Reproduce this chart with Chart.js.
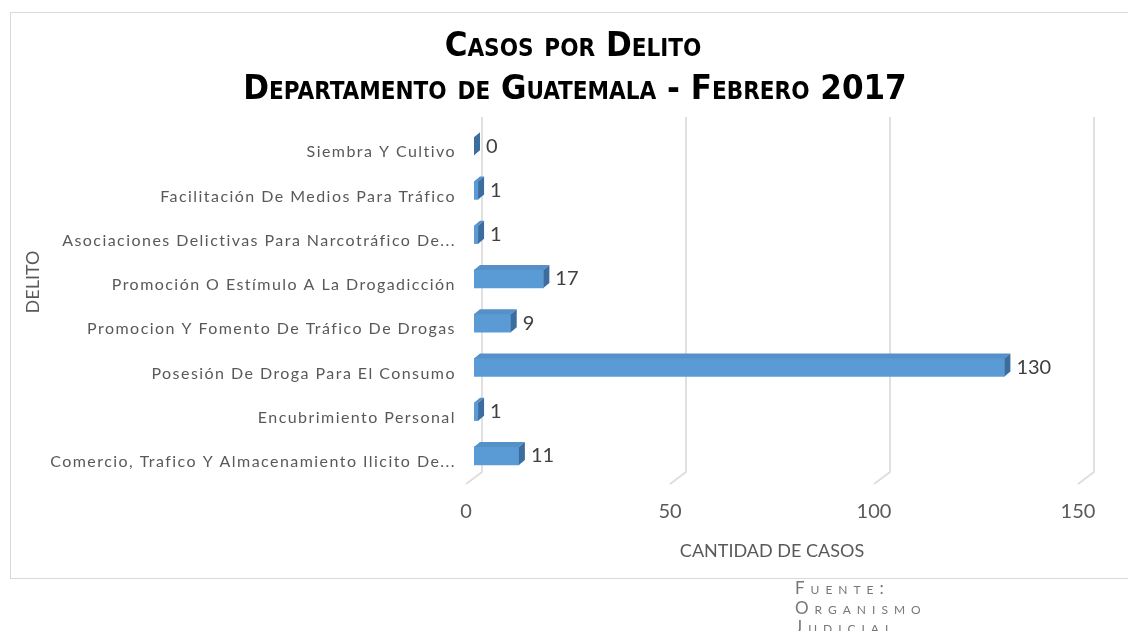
<!DOCTYPE html>
<html><head><meta charset="utf-8">
<script src="https://cdn.jsdelivr.net/npm/chart.js@4"></script>
<style>
html,body{margin:0;padding:0;background:#fff;width:1128px;height:631px;overflow:hidden}
#wrap{position:absolute;left:0;top:0;width:1128px;height:631px}
#src{position:absolute;left:795px;top:578px;font-family:Lato,sans-serif;font-variant:small-caps;font-size:17px;line-height:19.5px;color:#777;letter-spacing:6px}
</style></head><body>
<div id="wrap"><canvas id="c" width="1128" height="631"></canvas></div>
<div id="src">Fuente:<br>Organismo<br>Judicial</div>
<script>
const categories = [
  'Siembra Y Cultivo',
  'Facilitación De Medios Para Tráfico',
  'Asociaciones Delictivas Para Narcotráfico De...',
  'Promoción O Estímulo A La Drogadicción',
  'Promocion Y Fomento De Tráfico De Drogas',
  'Posesión De Droga Para El Consumo',
  'Encubrimiento Personal',
  'Comercio, Trafico Y Almacenamiento Ilicito De...'
];
const casos = [0, 1, 1, 17, 9, 130, 1, 11];
const xTicks = [0, 50, 100, 150];
const titleLines = ['Casos por Delito', 'Departamento de Guatemala - Febrero 2017'];
const yTitle = 'DELITO';
const xTitle = 'CANTIDAD DE CASOS';

const DEPTH = {bx: 8, by: -6, gx: 16, gy: -12, fx: 6, fy: -5};

const frame = {
  id: 'frame',
  beforeDraw(chart) {
    const ctx = chart.ctx;
    ctx.save();
    ctx.strokeStyle = '#d9d9d9';
    ctx.lineWidth = 1;
    ctx.strokeRect(10.5, 12.5, 1130, 566);
    ctx.restore();
    const ys = chart.scales.y;
    if (ys && !ys._spaced) {
      const orig = ys.drawLabels.bind(ys);
      ys.drawLabels = function (ca) {
        const c = this.ctx;
        const prev = c.letterSpacing;
        c.letterSpacing = '1.45px';
        orig(ca);
        c.letterSpacing = prev || '0px';
      };
      ys._spaced = true;
    }
  },
  afterDraw(chart) {
    const ctx = chart.ctx;
    ctx.save();
    ctx.fillStyle = '#000';
    ctx.font = 'small-caps bold 34.5px "Liberation Sans Narrow", "DejaVu Sans Condensed", sans-serif';
    ctx.textAlign = 'center';
    ctx.textBaseline = 'middle';
    ctx.fillText(titleLines[0], 573, 47);
    ctx.fillText(titleLines[1], 575, 90);
    ctx.restore();
    ctx.save();
    ctx.fillStyle = '#595959';
    ctx.font = '18px Lato';
    ctx.textAlign = 'center';
    ctx.textBaseline = 'middle';
    ctx.translate(33, 282);
    ctx.rotate(-Math.PI / 2);
    ctx.fillText(yTitle, 0, 0);
    ctx.restore();
  }
};

const grid3d = {
  id: 'grid3d',
  beforeDatasetsDraw(chart) {
    const {ctx, chartArea, scales: {x}} = chart;
    ctx.save();
    ctx.strokeStyle = '#dddddd';
    ctx.lineWidth = 1.8;
    xTicks.forEach(v => {
      const fx = x.getPixelForValue(v);
      const bx = fx + DEPTH.gx;
      const top = chartArea.top - 13;
      const bot = chartArea.bottom + DEPTH.gy;
      ctx.beginPath();
      ctx.moveTo(bx, top);
      ctx.lineTo(bx, bot);
      ctx.lineTo(fx, chartArea.bottom);
      ctx.stroke();
    });
    ctx.restore();
    ctx.save();
    ctx.translate(DEPTH.bx, DEPTH.by);
  },
  afterDatasetsDraw(chart) {
    const ctx = chart.ctx;
    const meta = chart.getDatasetMeta(0);
    const {fx, fy} = DEPTH;
    meta.data.forEach((el, i) => {
      const p = el.getProps(['x', 'y', 'base', 'height'], true);
      const top = p.y - p.height / 2, bot = p.y + p.height / 2;
      ctx.fillStyle = '#5590c8';
      ctx.beginPath();
      ctx.moveTo(p.base, top); ctx.lineTo(p.x, top);
      ctx.lineTo(p.x + fx, top + fy); ctx.lineTo(p.base + fx, top + fy);
      ctx.closePath(); ctx.fill();
      ctx.fillStyle = '#3b6e9f';
      ctx.beginPath();
      ctx.moveTo(p.x, top); ctx.lineTo(p.x + fx, top + fy);
      ctx.lineTo(p.x + fx, bot + fy); ctx.lineTo(p.x, bot);
      ctx.closePath(); ctx.fill();
      ctx.fillStyle = '#404040';
      ctx.font = '20px Lato';
      ctx.textAlign = 'left';
      ctx.textBaseline = 'middle';
      ctx.fillText(String(casos[i]), p.x + fx + 6, p.y);
    });
    ctx.restore();
  }
};

new Chart(document.getElementById('c'), {
  type: 'bar',
  data: {
    labels: categories,
    datasets: [{
      data: casos,
      backgroundColor: '#5b9bd5',
      borderWidth: 0,
      barThickness: 18
    }]
  },
  options: {
    indexAxis: 'y',
    responsive: false,
    devicePixelRatio: 1,
    animation: false,
    layout: {padding: {top: 130, left: 0, right: 50, bottom: 53}},
    plugins: {
      legend: {display: false},
      tooltip: {enabled: false},
      title: {display: false}
    },
    scales: {
      y: {
        grid: {display: false, drawTicks: false},
        border: {display: false},
        ticks: {padding: 10, color: '#595959', font: {family: 'Lato', size: 16}},
        title: {display: false},
        afterFit(s) { s.width = 466; }
      },
      x: {
        min: 0, max: 150,
        afterBuildTicks(s) { s.ticks = xTicks.map(v => ({value: v})); },
        grid: {display: false, drawTicks: false},
        border: {display: false},
        ticks: {padding: 16, color: '#595959', font: {family: 'Lato', size: 20}},
        title: {display: true, text: xTitle, color: '#595959', font: {family: 'Lato', size: 18}, padding: {bottom: 16}},
        afterFit(s) { s.height = 94; }
      }
    }
  },
  plugins: [frame, grid3d]
});
</script>
</body></html>
